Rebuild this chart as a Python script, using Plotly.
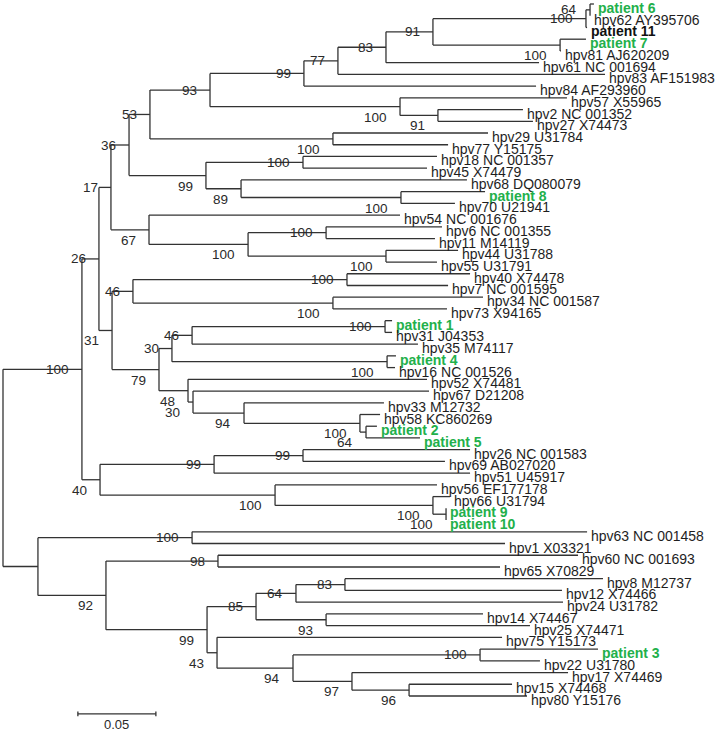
import plotly.graph_objects as go

# ---------------- leaves (top to bottom) ----------------
leaf_names = [
    "patient 6", "hpv62 AY395706", "patient 11", "patient 7", "hpv81 AJ620209",
    "hpv61 NC 001694", "hpv83 AF151983", "hpv84 AF293960", "hpv57 X55965", "hpv2 NC 001352",
    "hpv27 X74473", "hpv29 U31784", "hpv77 Y15175", "hpv18 NC 001357", "hpv45 X74479",
    "hpv68 DQ080079", "patient 8", "hpv70 U21941", "hpv54 NC 001676", "hpv6 NC 001355",
    "hpv11 M14119", "hpv44 U31788", "hpv55 U31791", "hpv40 X74478", "hpv7 NC 001595",
    "hpv34 NC 001587", "hpv73 X94165", "patient 1", "hpv31 J04353", "hpv35 M74117",
    "patient 4", "hpv16 NC 001526", "hpv52 X74481", "hpv67 D21208", "hpv33 M12732",
    "hpv58 KC860269", "patient 2", "patient 5", "hpv26 NC 001583", "hpv69 AB027020",
    "hpv51 U45917", "hpv56 EF177178", "hpv66 U31794", "patient 9", "patient 10",
    "hpv63 NC 001458", "hpv1 X03321", "hpv60 NC 001693", "hpv65 X70829", "hpv8 M12737",
    "hpv12 X74466", "hpv24 U31782", "hpv14 X74467", "hpv25 X74471", "hpv75 Y15173",
    "patient 3", "hpv22 U31780", "hpv17 X74469", "hpv15 X74468", "hpv80 Y15176",
]
leaf_depth = [
    0.3788, 0.3763, 0.3744, 0.3737, 0.3577,
    0.3436, 0.3859, 0.3417, 0.3615, 0.3333,
    0.3397, 0.3109, 0.2853, 0.2782, 0.2718,
    0.2974, 0.3090, 0.2897, 0.2545, 0.2814,
    0.2769, 0.2917, 0.2782, 0.2994, 0.2853,
    0.3077, 0.2846, 0.2494, 0.2494, 0.2660,
    0.2519, 0.2513, 0.2718, 0.2731, 0.2442,
    0.2417, 0.2397, 0.2673, 0.2994, 0.2833,
    0.2994, 0.2782, 0.2865, 0.2840, 0.2840,
    0.3744, 0.3218, 0.3686, 0.3186, 0.3846,
    0.3583, 0.3590, 0.3077, 0.3378, 0.3199,
    0.3814, 0.3442, 0.3622, 0.3263, 0.3359,
]
green_patients = ["patient 1", "patient 2", "patient 3", "patient 4", "patient 5",
                  "patient 6", "patient 7", "patient 8", "patient 9", "patient 10"]
black_patients = ["patient 11"]

# ---------------- internal nodes (children before parents) ----------------
node_ids = [
    "n64a", "n100a", "n100b", "n91a", "n83a", "n77", "n99a", "n91b", "n100c", "n93a",
    "n100d", "n53", "n100e", "n100f", "n89", "n99b", "n36", "n100g", "n100h", "n100i",
    "n67", "n17", "n100j", "n100k", "n46a", "n100l", "n46b", "n100m", "n30a", "n64b",
    "n100n", "n94a", "n30b", "n48", "n79", "n31", "n26", "n99c", "n99d", "n100o",
    "n100p", "n100q", "n40", "n100r", "n100s", "n98", "n83b", "n64c", "n93b", "n85",
    "n100t", "n96", "n97", "n94b", "n43", "n99e", "n92", "nB", "root",
]
node_depth = [
    0.3763, 0.3737, 0.3571, 0.2756, 0.2455, 0.2147, 0.1929, 0.2788, 0.2545, 0.1327,
    0.2115, 0.0942, 0.1923, 0.2551, 0.1526, 0.1301, 0.0808, 0.2071, 0.2455, 0.1571,
    0.0936, 0.0692, 0.2205, 0.2115, 0.0833, 0.2449, 0.1212, 0.2462, 0.1083, 0.2327,
    0.2288, 0.1545, 0.1218, 0.1186, 0.1000, 0.0699, 0.0615, 0.1923, 0.1353, 0.2840,
    0.2756, 0.1744, 0.0622, 0.0506, 0.1212, 0.1378, 0.2192, 0.1878, 0.2071, 0.1622,
    0.3058, 0.2603, 0.2237, 0.1859, 0.1372, 0.1308, 0.0660, 0.0224, 0.0000,
]
node_children = [
    ["patient 6", "hpv62 AY395706"], ["n64a", "patient 11"], ["patient 7", "hpv81 AJ620209"],
    ["n100a", "n100b"], ["n91a", "hpv61 NC 001694"], ["n83a", "hpv83 AF151983"],
    ["n77", "hpv84 AF293960"], ["hpv2 NC 001352", "hpv27 X74473"], ["hpv57 X55965", "n91b"],
    ["n99a", "n100c"], ["hpv29 U31784", "hpv77 Y15175"], ["n93a", "n100d"],
    ["hpv18 NC 001357", "hpv45 X74479"], ["patient 8", "hpv70 U21941"], ["hpv68 DQ080079", "n100f"],
    ["n100e", "n89"], ["n53", "n99b"], ["hpv6 NC 001355", "hpv11 M14119"],
    ["hpv44 U31788", "hpv55 U31791"], ["n100g", "n100h"], ["hpv54 NC 001676", "n100i"],
    ["n36", "n67"], ["hpv40 X74478", "hpv7 NC 001595"], ["hpv34 NC 001587", "hpv73 X94165"],
    ["n100j", "n100k"], ["patient 1", "hpv31 J04353"], ["n100l", "hpv35 M74117"],
    ["patient 4", "hpv16 NC 001526"], ["n46b", "n100m"], ["patient 2", "patient 5"],
    ["hpv58 KC860269", "n64b"], ["hpv33 M12732", "n100n"], ["hpv67 D21208", "n94a"],
    ["hpv52 X74481", "n30b"], ["n30a", "n48"], ["n46a", "n79"], ["n17", "n31"],
    ["hpv26 NC 001583", "hpv69 AB027020"], ["n99c", "hpv51 U45917"], ["patient 9", "patient 10"],
    ["hpv66 U31794", "n100o"], ["hpv56 EF177178", "n100p"], ["n99d", "n100q"], ["n26", "n40"],
    ["hpv63 NC 001458", "hpv1 X03321"], ["hpv60 NC 001693", "hpv65 X70829"],
    ["hpv8 M12737", "hpv12 X74466"], ["n83b", "hpv24 U31782"], ["hpv14 X74467", "hpv25 X74471"],
    ["n64c", "n93b"], ["patient 3", "hpv22 U31780"], ["hpv15 X74468", "hpv80 Y15176"],
    ["hpv17 X74469", "n96"], ["n100t", "n97"], ["hpv75 Y15173", "n94b"], ["n85", "n43"],
    ["n98", "n99e"], ["n100s", "n92"], ["n100r", "nB"],
]
node_support = [
    64, 100, 100, 91, 83, 77, 99, 91, 100, 93,
    100, 53, 100, 100, 89, 99, 36, 100, 100, 100,
    67, 17, 100, 100, 46, 100, 46, 100, 30, 64,
    100, 94, 30, 48, 79, 31, 26, 99, 99, 100,
    100, 100, 40, 100, 100, 98, 83, 64, 93, 85,
    100, 96, 97, 94, 43, 99, 92, None, None,
]
node_support_pos = [
    "on", "on", "below", "on", "on", "on", "on", "below", "below", "on",
    "below", "on", "on", "below", "below", "below", "on", "on", "below", "below",
    "below", "on", "on", "below", "on", "on", "on", "below", "on", "below",
    "below", "below", "below", "below", "below", "below", "on", "on", "on", "below",
    "below", "below", "below", "on", "on", "on", "on", "on", "below", "on",
    "on", "below", "below", "below", "below", "below", "below", None, None,
]

scale_value = 0.05
scale_start = 0.048

# ---------------- layout of the tree ----------------
X = dict(zip(leaf_names, leaf_depth))
Y = {name: i for i, name in enumerate(leaf_names)}
for nid, d, ch in zip(node_ids, node_depth, node_children):
    X[nid] = d
    Y[nid] = (Y[ch[0]] + Y[ch[-1]]) / 2.0

xs, ys = [], []
for nid, ch in zip(node_ids, node_children):
    nx = X[nid]
    xs += [nx, nx, None]
    ys += [Y[ch[0]], Y[ch[-1]], None]
    for c in ch:
        xs += [nx, X[c], None]
        ys += [Y[c], Y[c], None]

LINE = "#333333"
GREEN = "#22b04b"
FONT = "Liberation Sans, Arial, sans-serif"

fig = go.Figure()
fig.add_trace(go.Scatter(x=xs, y=ys, mode="lines",
                         line=dict(color=LINE, width=1.3),
                         hoverinfo="skip", showlegend=False))

# scale bar
sy = 60.53
tick = 0.2
fig.add_trace(go.Scatter(
    x=[scale_start, scale_start + scale_value, None, scale_start, scale_start, None,
       scale_start + scale_value, scale_start + scale_value],
    y=[sy, sy, None, sy - tick, sy + tick, None, sy - tick, sy + tick],
    mode="lines", line=dict(color=LINE, width=1.3), hoverinfo="skip", showlegend=False))

annotations = []
for name in leaf_names:
    if name in green_patients:
        txt, col = "<b>%s</b>" % name, GREEN
    elif name in black_patients:
        txt, col = "<b>%s</b>" % name, "#111111"
    else:
        txt, col = name, "#1e1e1e"
    annotations.append(dict(x=X[name], y=Y[name], text=txt, showarrow=False,
                            xanchor="left", yanchor="middle", xshift=2, yshift=-4,
                            font=dict(family=FONT, size=14, color=col)))

for nid, sup, pos in zip(node_ids, node_support, node_support_pos):
    if sup is None:
        continue
    annotations.append(dict(x=X[nid], y=Y[nid], text=str(sup), showarrow=False,
                            xanchor="right", yanchor="middle", xshift=-11,
                            yshift=0 if pos == "on" else -10.5,
                            font=dict(family=FONT, size=13.5, color="#2a2a2a")))

annotations.append(dict(x=scale_start + scale_value / 2, y=sy, text=str(scale_value),
                        showarrow=False, xanchor="center", yanchor="top", yshift=-2,
                        borderpad=0,
                        font=dict(family=FONT, size=13, color="#2a2a2a")))

fig.update_layout(
    width=717, height=732,
    margin=dict(l=0, r=0, t=0, b=0),
    paper_bgcolor="white", plot_bgcolor="white",
    showlegend=False,
    annotations=annotations,
    xaxis=dict(range=[-0.00192, 0.45769], visible=False, fixedrange=True),
    yaxis=dict(range=[62.07, -0.341], visible=False, fixedrange=True),
)

fig.write_html("out.html", config={"displayModeBar": False},
               post_script="document.body.style.margin='0';document.body.style.padding='0';")
